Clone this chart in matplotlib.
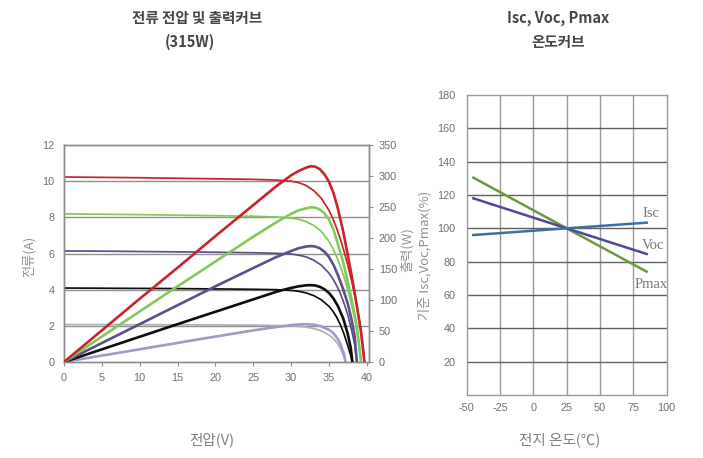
import matplotlib
matplotlib.use("Agg")
import matplotlib.pyplot as plt

plt.rcParams['axes.unicode_minus'] = False

# ---------------- data: left chart (I-V and P-V curves, 5 irradiance levels) ----------------
red_iv_v = [0, 5, 10, 15, 20, 25, 28, 30, 31, 32, 33, 34, 35, 35.5, 36, 36.5, 37, 37.5, 38, 38.5, 39, 39.4, 39.7]
red_iv_i = [10.23, 10.21, 10.19, 10.16, 10.13, 10.1, 10.06, 10.0, 9.92, 9.76, 9.48, 9.05, 8.4, 7.95, 7.42, 6.82, 6.12, 5.35, 4.5, 3.55, 2.4, 1.3, 0]
red_p_v = [0, 5, 10, 15, 20, 25, 28, 29, 30, 31, 32, 32.6, 33.2, 33.8, 34.4, 35, 35.6, 36.2, 36.9, 37.5, 38, 38.7, 39.2, 39.7]
red_p_w = [0, 51, 102, 152, 203, 253, 283, 292, 301, 308, 313.5, 315.7, 315, 311, 303, 291, 273, 247, 210, 172, 140, 90, 52, 0]

green_iv_v = [0, 5, 10, 15, 20, 25, 28, 30, 31, 32, 33, 34, 35, 35.5, 36, 36.5, 37, 37.5, 38, 38.5, 39, 39.25]
green_iv_i = [8.19, 8.17, 8.15, 8.12, 8.09, 8.06, 8.02, 7.96, 7.89, 7.76, 7.55, 7.22, 6.68, 6.3, 5.85, 5.32, 4.7, 3.98, 3.15, 2.2, 0.9, 0]
green_p_v = [0, 5, 10, 15, 20, 25, 28, 29, 30, 31, 32, 32.6, 33.2, 33.8, 34.4, 35, 35.6, 36.2, 36.9, 37.5, 38, 38.7, 39.25]
green_p_w = [0, 41, 81.5, 122, 162, 202, 225, 232, 239, 244.5, 248, 249.5, 249, 246, 240, 230, 214, 190, 160, 129, 101, 57, 0]

purple_iv_v = [0, 5, 10, 15, 20, 25, 28, 30, 31, 32, 33, 34, 35, 35.5, 36, 36.5, 37, 37.5, 38, 38.4, 38.7]
purple_iv_i = [6.14, 6.13, 6.11, 6.09, 6.07, 6.04, 6.01, 5.97, 5.91, 5.81, 5.63, 5.35, 4.92, 4.62, 4.25, 3.8, 3.25, 2.6, 1.75, 1.0, 0]
purple_p_v = [0, 5, 10, 15, 20, 25, 28, 29, 30, 31, 32, 32.6, 33.2, 33.8, 34.4, 35, 35.6, 36.2, 36.9, 37.5, 38, 38.4, 38.7]
purple_p_w = [0, 30.6, 61, 91.5, 122, 151.5, 169, 174, 179, 183.5, 186.3, 187, 186.3, 183.5, 178, 169.5, 157, 140, 117, 94, 68, 42, 0]

black_iv_v = [0, 5, 10, 15, 20, 25, 28, 30, 31, 32, 33, 34, 35, 35.5, 36, 36.5, 37, 37.5, 37.9, 38.1]
black_iv_i = [4.09, 4.08, 4.07, 4.06, 4.04, 4.02, 4.0, 3.96, 3.91, 3.82, 3.67, 3.44, 3.08, 2.83, 2.5, 2.08, 1.55, 0.9, 0.35, 0]
black_p_v = [0, 5, 10, 15, 20, 25, 28, 29, 30, 31, 32, 32.6, 33.2, 33.8, 34.4, 35, 35.6, 36.2, 36.9, 37.5, 37.9, 38.1]
black_p_w = [0, 20.4, 40.7, 61, 81, 101, 113, 116.5, 119.5, 122, 123.7, 124, 123.4, 121.3, 117.5, 111.5, 102.5, 90, 70, 45, 22, 0]

lav_iv_v = [0, 5, 10, 15, 20, 25, 28, 30, 31, 32, 33, 34, 35, 35.5, 36, 36.5, 37, 37.2]
lav_iv_i = [2.07, 2.07, 2.06, 2.06, 2.05, 2.04, 2.02, 2.0, 1.97, 1.93, 1.85, 1.72, 1.5, 1.33, 1.1, 0.78, 0.3, 0]
lav_p_v = [0, 5, 10, 15, 20, 25, 28, 30, 31, 32, 33, 34, 35, 35.5, 36, 36.5, 37, 37.2]
lav_p_w = [0, 10.3, 20.5, 30.8, 41, 51, 56.3, 59.5, 60.5, 61, 60.3, 57.5, 52, 47.5, 40.5, 30, 12, 0]

left_xticks = [0, 5, 10, 15, 20, 25, 30, 35, 40]
left_yticks = [0, 2, 4, 6, 8, 10, 12]
right_yticks = [0, 50, 100, 150, 200, 250, 300, 350]

# ---------------- data: right chart (temperature curves) ----------------
temp_c = [-45, 25, 85]
isc_pct = [96.0, 100, 103.4]
voc_pct = [118.0, 100, 84.6]
pmax_pct = [130.4, 100, 74.0]
temp_xticks = [-50, -25, 0, 25, 50, 75, 100]
temp_yticks = [20, 40, 60, 80, 100, 120, 140, 160, 180]

# ---------------- styling ----------------
KR = ['Noto Sans CJK KR', 'DejaVu Sans']
TICK_FONT = 'Liberation Sans'
TICK_COLOR = '#6e6e6e'
SPINE = '#8c8c8c'
TICK_SIZE = 7.8

W, H = 703, 458
fig = plt.figure(figsize=(W / 100, H / 100), dpi=100)

def rect(x0, y0, x1, y1):
    return [x0 / W, 1 - y1 / H, (x1 - x0) / W, (y1 - y0) / H]

# ---------------- left chart ----------------
ax = fig.add_axes(rect(64, 145, 369, 362))
ax2 = ax.twinx()
ax.set_xlim(0, 40.3)
ax.set_ylim(0, 12)
ax2.set_ylim(0, 350)

for yv in [2, 4, 6, 8, 10]:
    ax.axhline(yv, color='#8f8f8f', lw=1.0, zorder=1)

C_RED, C_GREEN, C_PURPLE, C_BLACK, C_LAV, C_LAVIV = '#c9232b', '#82c95a', '#5d4e8d', '#0d0d0d', '#a598c6', '#b2afb8'
lw_iv, lw_p = 1.25, 1.9
ax.plot(lav_iv_v, lav_iv_i, color=C_LAVIV, lw=lw_iv, zorder=3)
ax.plot(black_iv_v, black_iv_i, color=C_BLACK, lw=lw_iv, zorder=3)
ax.plot(purple_iv_v, purple_iv_i, color=C_PURPLE, lw=lw_iv, zorder=3)
ax.plot(green_iv_v, green_iv_i, color=C_GREEN, lw=lw_iv, zorder=3)
ax.plot(red_iv_v, red_iv_i, color=C_RED, lw=lw_iv, zorder=3)
ax2.plot(lav_p_v, lav_p_w, color=C_LAV, lw=lw_p, zorder=3)
ax2.plot(black_p_v, black_p_w, color=C_BLACK, lw=lw_p, zorder=3)
ax2.plot(purple_p_v, purple_p_w, color=C_PURPLE, lw=lw_p, zorder=3)
ax2.plot(green_p_v, green_p_w, color=C_GREEN, lw=lw_p, zorder=3)
ax2.plot(red_p_v, red_p_w, color=C_RED, lw=lw_p, zorder=3)

ax.set_xticks(left_xticks)
ax.set_yticks(left_yticks)
ax2.set_yticks(right_yticks)
for a in (ax, ax2):
    for s in a.spines.values():
        s.set_color(SPINE)
        s.set_linewidth(1.0)
ax.tick_params(axis='x', length=3, color=SPINE, pad=5, labelcolor=TICK_COLOR, labelsize=TICK_SIZE)
ax.tick_params(axis='y', length=0, pad=7, labelcolor=TICK_COLOR, labelsize=TICK_SIZE)
ax2.tick_params(axis='y', length=3, color=SPINE, pad=4, labelcolor=TICK_COLOR, labelsize=TICK_SIZE)
for lab in ax.get_xticklabels() + ax.get_yticklabels() + ax2.get_yticklabels():
    lab.set_family(TICK_FONT)

# ---------------- right chart ----------------
bx = fig.add_axes(rect(466.7, 95, 666.7, 395))
bx.set_xlim(-50, 100)
bx.set_ylim(0, 180)
for xv in [-25, 0, 25, 50, 75]:
    bx.axvline(xv, color='#9a9a9a', lw=1.0, zorder=1)
for yv in [20, 40, 60, 80, 100, 120, 140, 160]:
    bx.axhline(yv, color='#5f5f5f', lw=1.0, zorder=1)
for s in bx.spines.values():
    s.set_color('#9a9a9a')
    s.set_linewidth(1.0)
bx.plot(temp_c, pmax_pct, color='#6b9a3c', lw=1.8, zorder=3)
bx.plot(temp_c, voc_pct, color='#4b4895', lw=1.8, zorder=3)
bx.plot(temp_c, isc_pct, color='#3d6fa5', lw=1.8, zorder=3)
bx.set_xticks(temp_xticks)
bx.set_yticks(temp_yticks)
bx.tick_params(length=0, labelcolor=TICK_COLOR, labelsize=TICK_SIZE)
bx.tick_params(axis='y', pad=8)
bx.tick_params(axis='x', pad=6)
for lab in bx.get_xticklabels() + bx.get_yticklabels():
    lab.set_family(TICK_FONT)

SERIF = 'Liberation Serif'
bx.text(82.2, 108.6, 'Isc', family=SERIF, fontsize=10.5, color='#777777', va='center', ha='left')
bx.text(81.3, 89.4, 'Voc', family=SERIF, fontsize=10.5, color='#777777', va='center', ha='left')
bx.text(76.2, 66.6, 'Pmax', family=SERIF, fontsize=10.5, color='#777777', va='center', ha='left')

# ---------------- texts ----------------
TITLE_C = '#454545'
fig.text(197 / W, 1 - 18 / H, '전류 전압 및 출력커브', family=KR, fontsize=10.5, weight='bold', color=TITLE_C, ha='center', va='center')
fig.text(190 / W, 1 - 42 / H, '(315W)', family=KR, fontsize=10.5, weight='bold', color=TITLE_C, ha='center', va='center')
fig.text(558 / W, 1 - 18 / H, 'Isc, Voc, Pmax', family=KR, fontsize=10.5, weight='bold', color=TITLE_C, ha='center', va='center')
fig.text(558 / W, 1 - 42 / H, '온도커브', family=KR, fontsize=10.5, weight='bold', color=TITLE_C, ha='center', va='center')

LAB_C = '#808080'
fig.text(212 / W, 1 - 440 / H, '전압(V)', family=KR, fontsize=10.5, color=LAB_C, ha='center', va='center')
fig.text(560 / W, 1 - 440 / H, '전지 온도(℃)', family=KR, fontsize=10.5, color=LAB_C, ha='center', va='center')
fig.text(29 / W, 1 - 256 / H, '전류(A)', family=KR, fontsize=9.5, color='#909090', ha='center', va='center', rotation=90)
fig.text(407 / W, 1 - 250 / H, '출력(W)', family=KR, fontsize=9.5, color='#909090', ha='center', va='center', rotation=90)
fig.text(425 / W, 1 - 255 / H, '기준 Isc,Voc,Pmax(%)', family=KR, fontsize=9.5, color='#909090', ha='center', va='center', rotation=90)

fig.savefig('out.png', dpi=100)
